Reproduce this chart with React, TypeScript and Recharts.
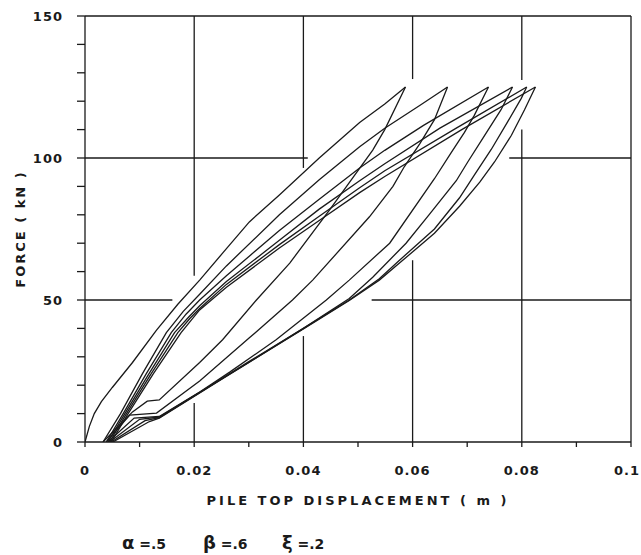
import React from "react";
import {
  LineChart,
  Line,
  XAxis,
  YAxis,
  ReferenceLine,
  Label,
} from "recharts";

// axis ticks (minor every 0.01 m / 10 kN, labels on the majors only)
const xTicks = [0, 0.01, 0.02, 0.03, 0.04, 0.05, 0.06, 0.07, 0.08, 0.09, 0.1];
const xTickLabels = ["0", "", "0.02", "", "0.04", "", "0.06", "", "0.08", "", "0.1"];
const yTicks = [0, 10, 20, 30, 40, 50, 60, 70, 80, 90, 100, 110, 120, 130, 140, 150];
const yTickLabels = ["0", "", "", "", "", "50", "", "", "", "", "100", "", "", "", "", "150"];

// grid: the plotter left gaps where the curves run
const gridSegments = [
  [{ x: 0, y: 150 }, { x: 0.1, y: 150 }],
  [{ x: 0.1, y: 0 }, { x: 0.1, y: 150 }],
  [{ x: 0, y: 100 }, { x: 0.0408, y: 100 }],
  [{ x: 0.0777, y: 100 }, { x: 0.1, y: 100 }],
  [{ x: 0, y: 50 }, { x: 0.016, y: 50 }],
  [{ x: 0.0525, y: 50 }, { x: 0.1, y: 50 }],
  [{ x: 0.02, y: 150 }, { x: 0.02, y: 58.5 }],
  [{ x: 0.02, y: 13.7 }, { x: 0.02, y: 0 }],
  [{ x: 0.04, y: 150 }, { x: 0.04, y: 96.5 }],
  [{ x: 0.04, y: 37.3 }, { x: 0.04, y: 0 }],
  [{ x: 0.06, y: 150 }, { x: 0.06, y: 127.8 }],
  [{ x: 0.06, y: 64 }, { x: 0.06, y: 0 }],
  [{ x: 0.08, y: 150 }, { x: 0.08, y: 127.5 }],
  [{ x: 0.08, y: 110 }, { x: 0.08, y: 0 }],
];

// loading / unloading branches, displacement (m) vs force (kN)
const loading1 = [
  { x: 0, y: 0 }, { x: 0.0008, y: 5.5 }, { x: 0.0017, y: 10 }, { x: 0.003, y: 14.2 },
  { x: 0.005, y: 19.2 }, { x: 0.0087, y: 28 }, { x: 0.0131, y: 39.4 }, { x: 0.017, y: 48.5 },
  { x: 0.021, y: 57 }, { x: 0.0252, y: 66.5 }, { x: 0.0301, y: 77.5 }, { x: 0.0356, y: 87 },
  { x: 0.0429, y: 100 }, { x: 0.0503, y: 112.5 }, { x: 0.0549, y: 119 }, { x: 0.0587, y: 125 },
];
const unloading1 = [
  { x: 0.0587, y: 125 }, { x: 0.0549, y: 110 }, { x: 0.0527, y: 102.8 }, { x: 0.0448, y: 81.7 },
  { x: 0.0375, y: 63 }, { x: 0.0314, y: 50 }, { x: 0.0252, y: 36 }, { x: 0.021, y: 28 },
  { x: 0.0136, y: 14.8 }, { x: 0.0114, y: 14.4 }, { x: 0.0087, y: 10.6 }, { x: 0.0033, y: 0 },
];
const loading2 = [
  { x: 0.0033, y: 0 }, { x: 0.0065, y: 10 }, { x: 0.0105, y: 24 }, { x: 0.0149, y: 38.5 },
  { x: 0.018, y: 46 }, { x: 0.021, y: 52 }, { x: 0.0259, y: 62 }, { x: 0.0356, y: 80 },
  { x: 0.0429, y: 92.3 }, { x: 0.0503, y: 104 }, { x: 0.0549, y: 110.5 }, { x: 0.0613, y: 118.5 },
  { x: 0.0664, y: 125 },
];
const unloading2 = [
  { x: 0.0664, y: 125 }, { x: 0.064, y: 113.5 }, { x: 0.0613, y: 105 }, { x: 0.0585, y: 97 },
  { x: 0.0564, y: 90 }, { x: 0.0521, y: 79.3 }, { x: 0.0417, y: 57 }, { x: 0.038, y: 50 },
  { x: 0.03, y: 36.5 }, { x: 0.021, y: 21.5 }, { x: 0.0131, y: 10.2 }, { x: 0.0082, y: 9.5 },
  { x: 0.0039, y: 0 },
];
const loading3 = [
  { x: 0.0039, y: 0 }, { x: 0.007, y: 10 }, { x: 0.0112, y: 24 }, { x: 0.0158, y: 38.5 },
  { x: 0.0185, y: 45 }, { x: 0.021, y: 50 }, { x: 0.0259, y: 58.5 }, { x: 0.0356, y: 74.5 },
  { x: 0.0429, y: 85.5 }, { x: 0.0503, y: 96.5 }, { x: 0.0549, y: 102.7 }, { x: 0.062, y: 111.5 },
  { x: 0.0739, y: 125 },
];
const unloading3 = [
  { x: 0.0739, y: 125 }, { x: 0.0713, y: 115 }, { x: 0.0695, y: 109 }, { x: 0.0671, y: 102 },
  { x: 0.064, y: 92.7 }, { x: 0.0558, y: 70 }, { x: 0.0484, y: 57 }, { x: 0.0442, y: 50 },
  { x: 0.035, y: 36 }, { x: 0.0265, y: 24.6 }, { x: 0.021, y: 17.6 }, { x: 0.0136, y: 9 },
  { x: 0.009, y: 8.4 }, { x: 0.0042, y: 0 },
];
const loading4 = [
  { x: 0.0042, y: 0 }, { x: 0.0073, y: 10 }, { x: 0.0117, y: 24 }, { x: 0.0164, y: 38.5 },
  { x: 0.019, y: 44 }, { x: 0.021, y: 48 }, { x: 0.0259, y: 56.5 }, { x: 0.0356, y: 71 },
  { x: 0.0429, y: 82 }, { x: 0.0503, y: 92 }, { x: 0.0549, y: 98 }, { x: 0.065, y: 110.5 },
  { x: 0.0783, y: 125 },
];
const unloading4 = [
  { x: 0.0783, y: 125 }, { x: 0.0762, y: 117 }, { x: 0.0732, y: 108 }, { x: 0.0701, y: 98.6 },
  { x: 0.068, y: 92 }, { x: 0.063, y: 80 }, { x: 0.0588, y: 70 }, { x: 0.0527, y: 58 },
  { x: 0.0484, y: 50.5 }, { x: 0.04, y: 40 }, { x: 0.03, y: 28 }, { x: 0.021, y: 17.5 },
  { x: 0.0136, y: 8.8 }, { x: 0.01, y: 8 }, { x: 0.0045, y: 0 },
];
const loading5 = [
  { x: 0.0045, y: 0 }, { x: 0.0076, y: 10 }, { x: 0.0121, y: 24 }, { x: 0.017, y: 38.5 },
  { x: 0.0192, y: 43.5 }, { x: 0.021, y: 47 }, { x: 0.0259, y: 55.5 }, { x: 0.0356, y: 69.5 },
  { x: 0.0429, y: 79.5 }, { x: 0.0503, y: 89.5 }, { x: 0.0549, y: 95.5 }, { x: 0.068, y: 110.5 },
  { x: 0.0809, y: 125 },
];
const unloading5 = [
  { x: 0.0809, y: 125 }, { x: 0.0799, y: 121 }, { x: 0.0774, y: 112.7 }, { x: 0.0744, y: 103 },
  { x: 0.0713, y: 94 }, { x: 0.0686, y: 86 }, { x: 0.064, y: 75 }, { x: 0.0576, y: 64 },
  { x: 0.0539, y: 57.5 }, { x: 0.0484, y: 50 }, { x: 0.04, y: 40 }, { x: 0.03, y: 28.3 },
  { x: 0.021, y: 17.4 }, { x: 0.0136, y: 8.6 }, { x: 0.011, y: 7.5 }, { x: 0.0048, y: 0 },
];
const loading6 = [
  { x: 0.0048, y: 0 }, { x: 0.0079, y: 10 }, { x: 0.0125, y: 24 }, { x: 0.0176, y: 38.5 },
  { x: 0.0195, y: 43 }, { x: 0.021, y: 46.5 }, { x: 0.0259, y: 54.5 }, { x: 0.0356, y: 68.3 },
  { x: 0.0429, y: 78 }, { x: 0.0503, y: 87.8 }, { x: 0.0549, y: 93.5 }, { x: 0.069, y: 110 },
  { x: 0.0825, y: 125 },
];
const unloading6 = [
  { x: 0.0825, y: 125 }, { x: 0.0805, y: 117 }, { x: 0.0781, y: 108 }, { x: 0.075, y: 98.6 },
  { x: 0.0723, y: 91.5 }, { x: 0.0686, y: 83 }, { x: 0.064, y: 73.5 }, { x: 0.0576, y: 63 },
  { x: 0.0539, y: 57 }, { x: 0.0484, y: 49.8 }, { x: 0.04, y: 39.8 }, { x: 0.03, y: 28 },
  { x: 0.021, y: 17.3 }, { x: 0.0136, y: 8.4 }, { x: 0.0118, y: 7.2 }, { x: 0.0051, y: 0 },
];

const branches = [
  loading1, unloading1, loading2, unloading2, loading3, unloading3,
  loading4, unloading4, loading5, unloading5, loading6, unloading6,
];

const ink = "#1a1a1a";
const font = "'DejaVu Sans', sans-serif";

const XTick = (props: any) => {
  const { x, y, payload } = props;
  const i = xTicks.indexOf(payload.value);
  const label = xTickLabels[i];
  if (!label) return null;
  // last label sits against the right edge of the page
  const dx = i === xTicks.length - 1 ? -4 : 0;
  return (
    <text x={x + dx} y={y} dy="0.71em" textAnchor="middle" fontSize={13} fontFamily={font}
      fontWeight="bold" fill={ink} letterSpacing={1}>
      {label}
    </text>
  );
};

const YTick = (props: any) => {
  const { x, y, payload } = props;
  const label = yTickLabels[yTicks.indexOf(payload.value)];
  if (!label) return null;
  return (
    <text x={x} y={y} dy="0.36em" textAnchor="end" fontSize={13} fontFamily={font}
      fontWeight="bold" fill={ink} letterSpacing={1}>
      {label}
    </text>
  );
};

export default function App() {
  return (
    <div style={{ position: "absolute", left: 0, top: 0, background: "#fff" }}>
      <LineChart width={641} height={555} margin={{ top: 16, right: 10, bottom: 0, left: 0 }}>
        <XAxis
          type="number"
          dataKey="x"
          domain={[0, 0.1]}
          ticks={xTicks}
          interval={0}
          height={113}
          tickSize={5}
          tickMargin={19}
          tick={<XTick />}
          stroke={ink}
          strokeWidth={1.3}
          allowDataOverflow
        >
          <Label
            content={({ viewBox }: any) => (
              <text x={viewBox.x + viewBox.width / 2} y={viewBox.y + 63} textAnchor="middle"
                fontSize={13} fontFamily={font} fontWeight="bold" fill={ink} letterSpacing={3}>
                PILE TOP DISPLACEMENT ( m )
              </text>
            )}
          />
          <Label
            content={({ viewBox }: any) => (
              <g fontFamily={font} fill={ink}>
                <text x={viewBox.x + 37} y={viewBox.y + 107} fontSize={14} fontWeight="bold">
                  <tspan fontSize={18}>α</tspan> =.5
                </text>
                <text x={viewBox.x + 118} y={viewBox.y + 107} fontSize={14} fontWeight="bold">
                  <tspan fontSize={18}>β</tspan> =.6
                </text>
                <text x={viewBox.x + 197} y={viewBox.y + 107} fontSize={14} fontWeight="bold">
                  <tspan fontSize={18}>ξ</tspan> =.2
                </text>
              </g>
            )}
          />
        </XAxis>
        <YAxis
          type="number"
          dataKey="y"
          domain={[0, 150]}
          ticks={yTicks}
          interval={0}
          width={85}
          tickSize={8}
          tickMargin={14}
          tick={<YTick />}
          stroke={ink}
          strokeWidth={1.3}
          allowDataOverflow
        >
          <Label
            content={({ viewBox }: any) => (
              <text x={20} y={viewBox.y + viewBox.height / 2} textAnchor="middle"
                dominantBaseline="central"
                transform={`rotate(-90 20 ${viewBox.y + viewBox.height / 2})`}
                fontSize={13} fontFamily={font} fontWeight="bold" fill={ink} letterSpacing={2}>
                FORCE ( kN )
              </text>
            )}
          />
        </YAxis>
        {gridSegments.map((seg, i) => (
          <ReferenceLine key={`g${i}`} segment={seg} stroke={ink} strokeWidth={1.3} ifOverflow="visible" />
        ))}
        {branches.map((b, i) => (
          <Line
            key={`b${i}`}
            data={b}
            dataKey="y"
            type="linear"
            stroke={ink}
            strokeWidth={1.3}
            dot={false}
            activeDot={false}
            isAnimationActive={false}
          />
        ))}
      </LineChart>
    </div>
  );
}
